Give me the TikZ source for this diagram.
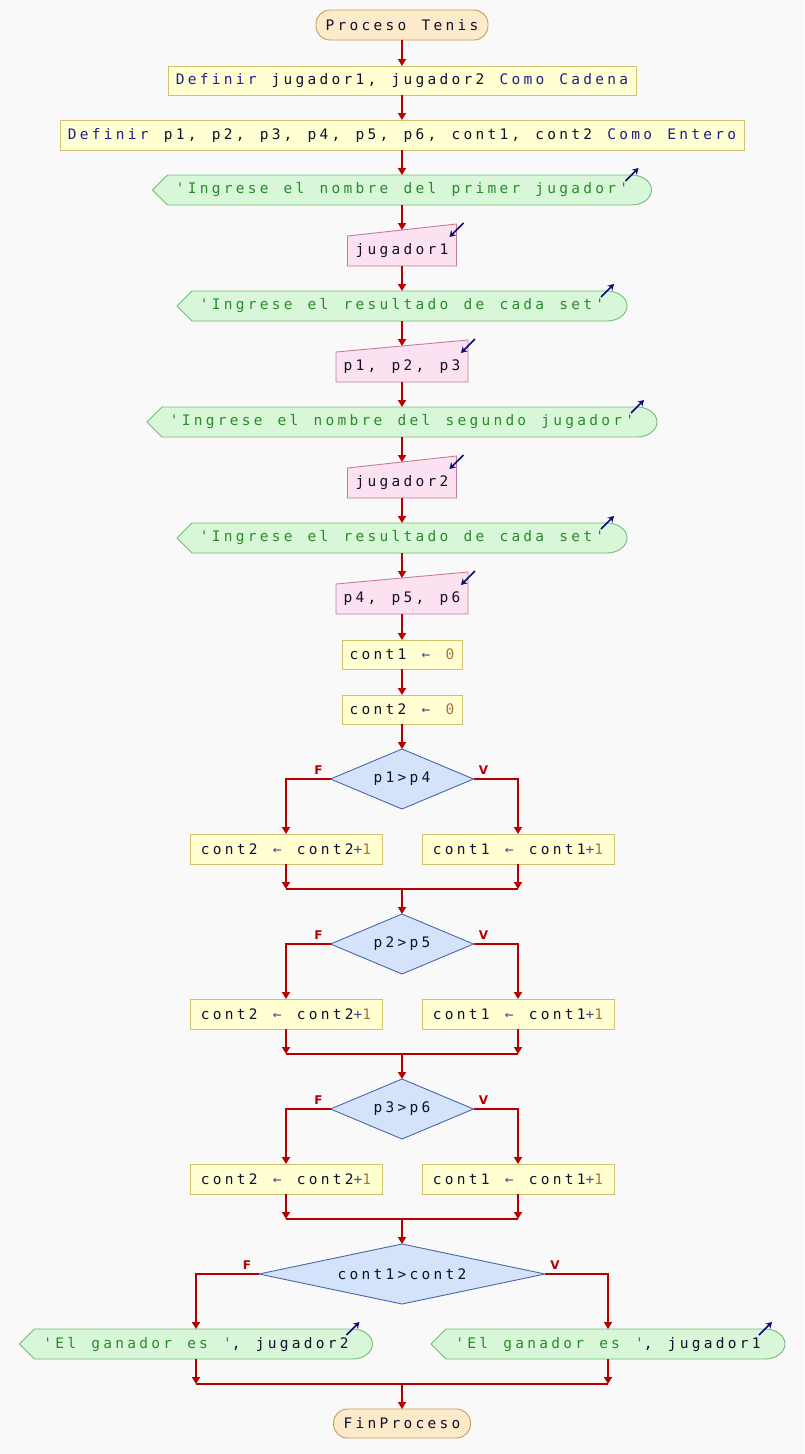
\documentclass[tikz,border=0pt]{standalone}
\usepackage{fontspec}
\setmonofont{DejaVu Sans Mono}[LetterSpace=22.5,WordSpace=1.27]
\newfontfamily\branchfont{DejaVu Sans}
\usetikzlibrary{arrows.meta,calc}

\definecolor{pagebg}{HTML}{F9F9F9}
\definecolor{flowred}{HTML}{B40000}
\definecolor{termfill}{HTML}{FDEACA}
\definecolor{termdraw}{HTML}{C89C5A}
\definecolor{procfill}{HTML}{FFFFD2}
\definecolor{procdraw}{HTML}{CFC26A}
\definecolor{outfill}{HTML}{D8F7D8}
\definecolor{outdraw}{HTML}{78BB78}
\definecolor{infill}{HTML}{FCE2F0}
\definecolor{indraw}{HTML}{C27CA0}
\definecolor{decfill}{HTML}{D4E2FA}
\definecolor{decdraw}{HTML}{4A68A8}
\definecolor{idcol}{HTML}{10102A}
\definecolor{kwcol}{HTML}{1E1E8C}
\definecolor{strcol}{HTML}{2A8A2A}
\definecolor{numcol}{HTML}{A8743C}
\definecolor{opcol}{HTML}{4A4A8C}
\definecolor{ionavy}{HTML}{0C0C6E}

\newcommand\codefont{\ttfamily\fontsize{14.5}{17}\selectfont}
\newcommand\kwd[1]{\textcolor{kwcol}{#1}}
\newcommand\strg[1]{\textcolor{strcol}{#1}}
\newcommand\numb[1]{\textcolor{numcol}{#1}}
\newcommand\opr[1]{\textcolor{opcol}{#1}}

\pgfdeclarelayer{pagelayer}
\pgfdeclarelayer{shapelayer}
\pgfsetlayers{pagelayer,shapelayer,main}

\tikzset{
  txt/.style={font=\codefont, text=idcol, inner sep=0pt, outer sep=0pt, align=center},
  termbox/.style={txt, draw=termdraw, fill=termfill, line width=0.9pt, rounded corners=14pt},
  procbox/.style={txt, draw=procdraw, fill=procfill, line width=0.9pt},
  outbox/.style={txt, minimum height=30},
  inbox/.style={txt, minimum height=30},
  decbox/.style={txt, minimum height=60},
  outshape/.style={fill=outfill, draw=outdraw, line width=0.9pt},
  inshape/.style={fill=infill, draw=indraw, line width=0.9pt},
  decshape/.style={fill=decfill, draw=decdraw, line width=0.9pt},
  flow/.style={draw=flowred, line width=2pt, -{Triangle[length=7pt,width=8pt]}},
  flowline/.style={draw=flowred, line width=2pt},
  ioarrow/.style={draw=ionavy, line width=1.7pt, -{Stealth[length=6pt,width=7pt]}},
  branchlbl/.style={font=\branchfont\bfseries\fontsize{12}{14}\selectfont, text=flowred, inner sep=0pt},
}

% output symbol: pointed left end, rounded right end, outgoing arrow mark
\newcommand\drawout[1]{%
  \begin{pgfonlayer}{shapelayer}
    \path[outshape] ($(#1.north west)+(15,0)$) -- ($(#1.north east)+(-20,0)$)
      arc[start angle=-90,end angle=90,x radius=20,y radius=15]
      -- ($(#1.south west)+(15,0)$) -- (#1.west) -- cycle;
  \end{pgfonlayer}
  \draw[ioarrow] ($(#1.north east)+(-26,6)$) -- ($(#1.north east)+(-13,-7)$);
}
% input symbol: slanted top edge, incoming arrow mark
\newcommand\drawin[1]{%
  \begin{pgfonlayer}{shapelayer}
    \path[inshape] (#1.south west) -- (#1.north west) -- ($(#1.north east)+(0,-12)$)
      -- (#1.south east) -- cycle;
  \end{pgfonlayer}
  \draw[ioarrow] ($(#1.north east)+(7,-13)$) -- ($(#1.north east)+(-7,1)$);
}
% decision symbol
\newcommand\drawdec[1]{%
  \begin{pgfonlayer}{shapelayer}
    \path[decshape] (#1.north) -- (#1.east) -- (#1.south) -- (#1.west) -- cycle;
  \end{pgfonlayer}
}

\begin{document}
\begin{tikzpicture}[x=1pt,y=-1pt]
\begin{pgfonlayer}{pagelayer}
  \fill[pagebg] (0,0) rectangle (804,1454);
\end{pgfonlayer}
\useasboundingbox (0,0) rectangle (804,1454);

% main column
\node[termbox, minimum width=172, minimum height=30] (start) at (402,25) {Proceso Tenis};
\node[procbox, minimum width=468, minimum height=29] (def1) at (402,80.5)
  {\kwd{Definir} jugador1, jugador2 \kwd{Como Cadena}};
\node[procbox, minimum width=684, minimum height=30] (def2) at (402,135)
  {\kwd{Definir} p1, p2, p3, p4, p5, p6, cont1, cont2 \kwd{Como Entero}};
\node[outbox, minimum width=499] (out1) at (402,190) {\strg{'Ingrese el nombre del primer jugador'}};
\node[inbox, minimum width=109] (in1) at (402,251) {jugador1};
\node[outbox, minimum width=450] (out2) at (402,306) {\strg{'Ingrese el resultado de cada set'}};
\node[inbox, minimum width=132] (in2) at (402,367) {p1, p2, p3};
\node[outbox, minimum width=510] (out3) at (402,422) {\strg{'Ingrese el nombre del segundo jugador'}};
\node[inbox, minimum width=109] (in3) at (402,483) {jugador2};
\node[outbox, minimum width=450] (out4) at (402,538) {\strg{'Ingrese el resultado de cada set'}};
\node[inbox, minimum width=132] (in4) at (402,599) {p4, p5, p6};
\node[procbox, minimum width=120, minimum height=29] (as1) at (402,654.5) {cont1 \opr{←} \numb{0}};
\node[procbox, minimum width=120, minimum height=29] (as2) at (402,709.5) {cont2 \opr{←} \numb{0}};

\drawout{out1} \drawout{out2} \drawout{out3} \drawout{out4}
\drawin{in1} \drawin{in2} \drawin{in3} \drawin{in4}

\draw[flow] (start.south) -- (def1.north);
\draw[flow] (def1.south) -- (def2.north);
\draw[flow] (def2.south) -- (out1.north);
\draw[flow] (out1.south) -- ($(in1.north)+(0,-6)$);
\draw[flow] (in1.south) -- (out2.north);
\draw[flow] (out2.south) -- ($(in2.north)+(0,-6)$);
\draw[flow] (in2.south) -- (out3.north);
\draw[flow] (out3.south) -- ($(in3.north)+(0,-6)$);
\draw[flow] (in3.south) -- (out4.north);
\draw[flow] (out4.south) -- ($(in4.north)+(0,-6)$);
\draw[flow] (in4.south) -- (as1.north);
\draw[flow] (as1.south) -- (as2.north);

% three set comparisons
\foreach \k/\cy/\cond in {1/779/p1>p4, 2/944/p2>p5, 3/1109/p3>p6}{
  \node[decbox, minimum width=143] (dec\k) at (402,\cy) {\cond};
  \drawdec{dec\k}
  \node[procbox, minimum width=192, minimum height=30] (sf\k) at (286,\cy+70) {cont2 \opr{←} cont2\opr{+}\numb{1}};
  \node[procbox, minimum width=192, minimum height=30] (sv\k) at (518,\cy+70) {cont1 \opr{←} cont1\opr{+}\numb{1}};
  \node[branchlbl] (lf\k) at ($(dec\k.west)+(-12,-9)$) {F};
  \node[branchlbl] (lv\k) at ($(dec\k.east)+(10,-9)$) {V};
  \coordinate (j\k) at (402,\cy+110);
  \coordinate (jl\k) at (sf\k |- j\k);
  \coordinate (jr\k) at (sv\k |- j\k);
  \draw[flow] (dec\k.west) -| (sf\k.north);
  \draw[flow] (dec\k.east) -| (sv\k.north);
  \draw[flowline] (jl\k) -- (jr\k);
  \draw[flow] (sf\k.south) -- (jl\k);
  \draw[flow] (sv\k.south) -- (jr\k);
}
\draw[flow] (as2.south) -- (dec1.north);
\draw[flow] (j1) -- (dec2.north);
\draw[flow] (j2) -- (dec3.north);

% final decision
\node[decbox, minimum width=286] (dec4) at (402,1274) {cont1>cont2};
\drawdec{dec4}
\draw[flow] (j3) -- (dec4.north);
\node[branchlbl] (lf4) at ($(dec4.west)+(-12,-9)$) {F};
\node[branchlbl] (lv4) at ($(dec4.east)+(10,-9)$) {V};
\node[outbox, minimum width=353] (resf) at (196,1344) {\strg{'El ganador es '}, jugador2};
\node[outbox, minimum width=354] (resv) at (608,1344) {\strg{'El ganador es '}, jugador1};
\drawout{resf} \drawout{resv}
\draw[flow] (dec4.west) -| (resf.north);
\draw[flow] (dec4.east) -| (resv.north);
\coordinate (j4) at (402,1384);
\coordinate (jl4) at (resf |- j4);
\coordinate (jr4) at (resv |- j4);
\draw[flowline] (jl4) -- (jr4);
\draw[flow] (resf.south) -- (jl4);
\draw[flow] (resv.south) -- (jr4);

\node[termbox, minimum width=137, minimum height=29] (fin) at (402,1423.5) {FinProceso};
\draw[flow] (j4) -- (fin.north);
\end{tikzpicture}
\end{document}
